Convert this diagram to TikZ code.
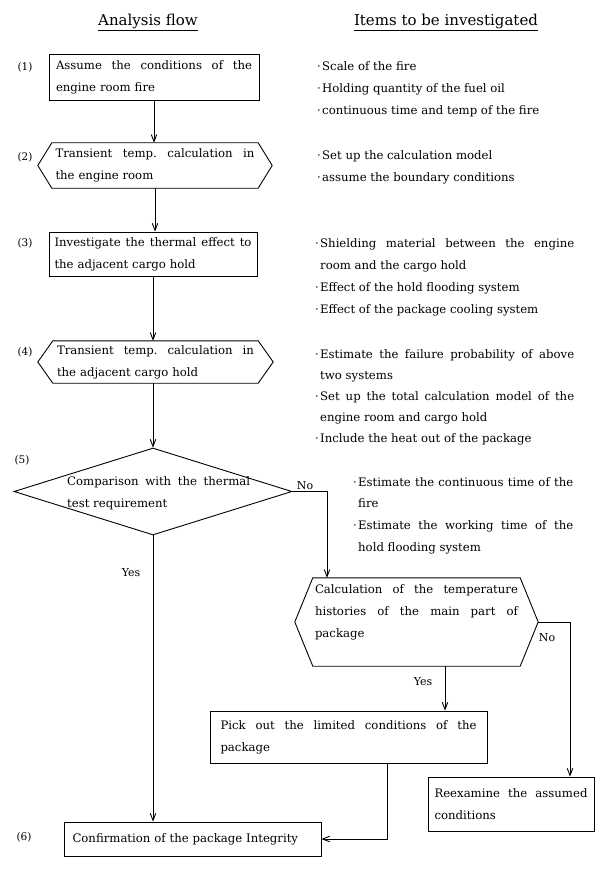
\documentclass[tikz,border=0pt]{standalone}
\usepackage{fontspec}
\setmainfont{DejaVu Serif}
\usetikzlibrary{arrows.meta,shapes.geometric}
\newcommand\itemdot{\makebox[5pt][l]{·}}
\newcommand\fillline[2]{\makebox[#1][s]{\frenchspacing\spaceskip=0pt\xspaceskip=0pt\relax #2}}
\newcommand\hexoutline[2]{\draw[flowline] (#1.north west) -- (#1.north east) -- ([xshift=#2]#1.east) -- (#1.south east) -- (#1.south west) -- ([xshift=-#2]#1.west) -- cycle;}
\begin{document}
\begin{tikzpicture}[x=1pt,y=-1pt,
  every node/.style={font=\fontsize{11.7}{22}\selectfont},
  flowline/.style={line width=0.9pt},
  arrowline/.style={flowline,-{Straight Barb[length=7pt,width=5.5pt]}},
  boxnode/.style={draw,line width=0.9pt,rectangle,inner ysep=0pt,align=left},
  hexnode/.style={rectangle,inner ysep=0pt,align=left},
  itemtext/.style={anchor=north west,inner sep=0pt,align=left},
  numlabel/.style={font=\fontsize{10.5}{12}\selectfont},
  branchlabel/.style={font=\fontsize{11}{13}\selectfont},
  titletext/.style={font=\fontsize{15}{18}\selectfont}]
\useasboundingbox (0,0) rectangle (600,869);

% titles
\node[titletext] (ta) at (148,22) {\underline{Analysis flow}};
\node[titletext] (tb) at (446,22) {\underline{Items to be investigated}};

% step numbers
\node[numlabel] (n1) at (25,67) {(1)};
\node[numlabel] (n2) at (25,157) {(2)};
\node[numlabel] (n3) at (25,243) {(3)};
\node[numlabel] (n4) at (25,352) {(4)};
\node[numlabel] (n5) at (22,460) {(5)};
\node[numlabel] (n6) at (24,837) {(6)};

% flow nodes
\node[boxnode,minimum width=210pt,minimum height=46pt,text width=196pt,inner xsep=7pt] (b1) at (154,77)
  {\fillline{196pt}{Assume the conditions of the}\\engine room fire};
\node[hexnode,minimum width=206pt,minimum height=45pt,text width=199pt,inner xsep=3.5pt] (h2) at (155,165.5)
  {\fillline{199pt}{Transient temp. calculation in}\\the engine room};
\hexoutline{h2}{14pt}
\node[boxnode,minimum width=208pt,minimum height=44pt,text width=197pt,inner xsep=5.5pt] (b3) at (153,254)
  {\fillline{197pt}{Investigate the thermal effect to}\\the adjacent cargo hold};
\node[hexnode,minimum width=205pt,minimum height=42pt,text width=197pt,inner xsep=4pt] (h4) at (155.5,362)
  {\fillline{197pt}{Transient temp. calculation in}\\the adjacent cargo hold};
\hexoutline{h4}{15pt}
\node[draw,diamond,line width=0.9pt,minimum width=278pt,minimum height=87pt,inner sep=0pt] (d5) at (153,491.5) {};
\node[anchor=west,inner sep=0pt,align=left] (d5t) at (67,493)
  {\fillline{183pt}{Comparison with the thermal}\\test requirement};
\node[hexnode,minimum width=207pt,minimum height=88pt,text width=203pt,inner xsep=2pt] (h6) at (416.5,622)
  {\fillline{203pt}{Calculation of the temperature}\\\fillline{203pt}{histories of the main part of}\\package\\\mbox{}};
\hexoutline{h6}{18pt}
\node[boxnode,minimum width=277pt,minimum height=52pt,text width=256pt,inner xsep=10.5pt] (pick) at (348.5,737)
  {\fillline{256pt}{Pick out the limited conditions of the}\\package};
\node[boxnode,minimum width=166pt,minimum height=54pt,text width=153pt,inner xsep=6.5pt] (reex) at (511,804)
  {\fillline{153pt}{Reexamine the assumed}\\conditions};
\node[boxnode,minimum width=257pt,minimum height=34pt,text width=240pt,inner xsep=8.5pt] (conf) at (192.5,839)
  {Confirmation of the package Integrity};

% items to be investigated
\node[itemtext,font=\fontsize{11.7}{22}\selectfont] (ia) at (317,61)
  {\itemdot Scale of the fire\\\itemdot Holding quantity of the fuel oil\\\itemdot continuous time and temp of the fire};
\node[itemtext,font=\fontsize{11.7}{22}\selectfont] (ib) at (317,150)
  {\itemdot Set up the calculation model\\\itemdot assume the boundary conditions};
\node[itemtext,font=\fontsize{11.7}{22.3}\selectfont] (ic) at (315,238)
  {\fillline{259pt}{\itemdot Shielding material between the engine}\\\hspace*{5pt}room and the cargo hold\\\itemdot Effect of the hold flooding system\\\itemdot Effect of the package cooling system};
\node[itemtext,font=\fontsize{11.7}{21}\selectfont] (ie) at (315,349)
  {\fillline{259pt}{\itemdot Estimate the failure probability of above}\\\hspace*{5pt}two systems\\\fillline{259pt}{\itemdot Set up the total calculation model of the}\\\hspace*{5pt}engine room and cargo hold\\\itemdot Include the heat out of the package};
\node[itemtext,font=\fontsize{11.7}{21.7}\selectfont] (id) at (353,477)
  {\fillline{220pt}{\itemdot Estimate the continuous time of the}\\\hspace*{5pt}fire\\\fillline{220pt}{\itemdot Estimate the working time of the}\\\hspace*{5pt}hold flooding system};

% connectors
\draw[arrowline] (b1.south) -- (b1.south |- h2.north);
\draw[arrowline] (h2.south) -- (h2.south |- b3.north);
\draw[arrowline] (b3.south) -- (b3.south |- h4.north);
\draw[arrowline] (h4.south -| d5.north) -- (d5.north);
\coordinate (noturn) at (327,491.5);
\draw[arrowline] (d5.east) -- (noturn) -- (noturn |- h6.north);
\draw[arrowline] (d5.south) -- (d5.south |- conf.north);
\coordinate (yesdrop) at (445,690);
\draw[arrowline] (yesdrop |- h6.south) -- (yesdrop |- pick.north);
\coordinate (noturn2) at (570,622);
\draw[arrowline] ([xshift=18pt]h6.east) -- (noturn2) -- (noturn2 |- reex.north);
\coordinate (pickdrop) at (387,839);
\draw[arrowline] (pickdrop |- pick.south) -- (pickdrop) -- (conf.east);

% branch labels
\node[branchlabel] (lno1) at (305,486) {No};
\node[branchlabel] (lyes1) at (131,573) {Yes};
\node[branchlabel] (lyes2) at (423,682) {Yes};
\node[branchlabel] (lno2) at (547,638) {No};
\end{tikzpicture}
\end{document}
